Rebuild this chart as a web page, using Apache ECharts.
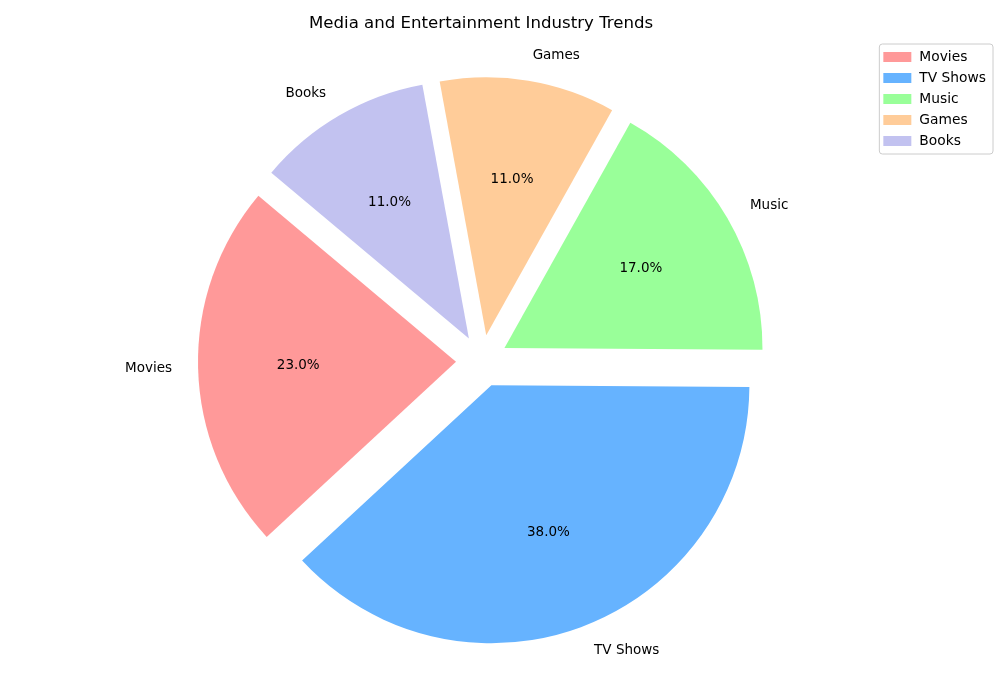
<!DOCTYPE html>
<html><head><meta charset="utf-8">
<script src="https://cdn.jsdelivr.net/npm/echarts@6/dist/echarts.min.js"></script>
<style>html,body{margin:0;padding:0;background:#fff}#c{width:1000px;height:700px}</style>
</head><body><div id="c"></div>
<script>
const categories = ['Movies', 'TV Shows', 'Music', 'Games', 'Books'];
const values = [23, 38, 17, 11, 11];
const colors = ['#ff9999', '#66b3ff', '#99ff99', '#ffcc99', '#c2c2f0'];
const titleText = 'Media and Entertainment Industry Trends';

const R = 258, CX = 482, CY = 361, OFF = 26;
const font = 'DejaVu Sans';
const total = values.reduce((a, b) => a + b, 0);

function mk(labelOn) {
  return categories.map((c, i) => ({
    name: c, value: values[i], selected: true,
    itemStyle: { color: labelOn ? colors[i] : 'rgba(0,0,0,0)' }
  }));
}

const chart = echarts.init(document.getElementById('c'), null, { renderer: 'canvas' });
chart.setOption({
  animation: false,
  title: { text: titleText, left: 304, top: 10,
    textStyle: { fontFamily: font, fontSize: 16.6, fontWeight: 'normal', color: '#000' } },
  legend: {
    orient: 'vertical', right: 7, top: 44, data: categories,
    itemWidth: 28, itemHeight: 10, itemGap: 7,
    padding: [6, 7, 6, 4],
    borderColor: '#cccccc', borderWidth: 1, borderRadius: 3,
    icon: 'rect',
    textStyle: { fontFamily: font, fontSize: 13.8, color: '#000', padding: [0, 0, 0, 3] }
  },
  series: [
    {
      type: 'pie', name: 'main', center: [CX, CY], radius: [0, R],
      startAngle: 140, clockwise: false, avoidLabelOverlap: false,
      selectedMode: 'multiple', selectedOffset: OFF,
      emphasis: { disabled: true }, select: { disabled: false },
      data: mk(true),
      label: { show: true, position: 'outside', fontFamily: font, fontSize: 13.5, color: '#000',
        distanceToLabelLine: 0 },
      labelLine: { show: false, length: 26, length2: 0 }
    },
    {
      type: 'pie', name: 'pct', center: [CX, CY], radius: [0.2 * R, R],
      startAngle: 140, clockwise: false, avoidLabelOverlap: false,
      selectedMode: 'multiple', selectedOffset: OFF, silent: true,
      emphasis: { disabled: true },
      data: mk(false),
      label: { show: true, position: 'inside', fontFamily: font, fontSize: 13.5, color: '#000',
        formatter: p => (p.value / total * 100).toFixed(1) + '%' },
      labelLine: { show: false }
    }
  ]
});
</script></body></html>
